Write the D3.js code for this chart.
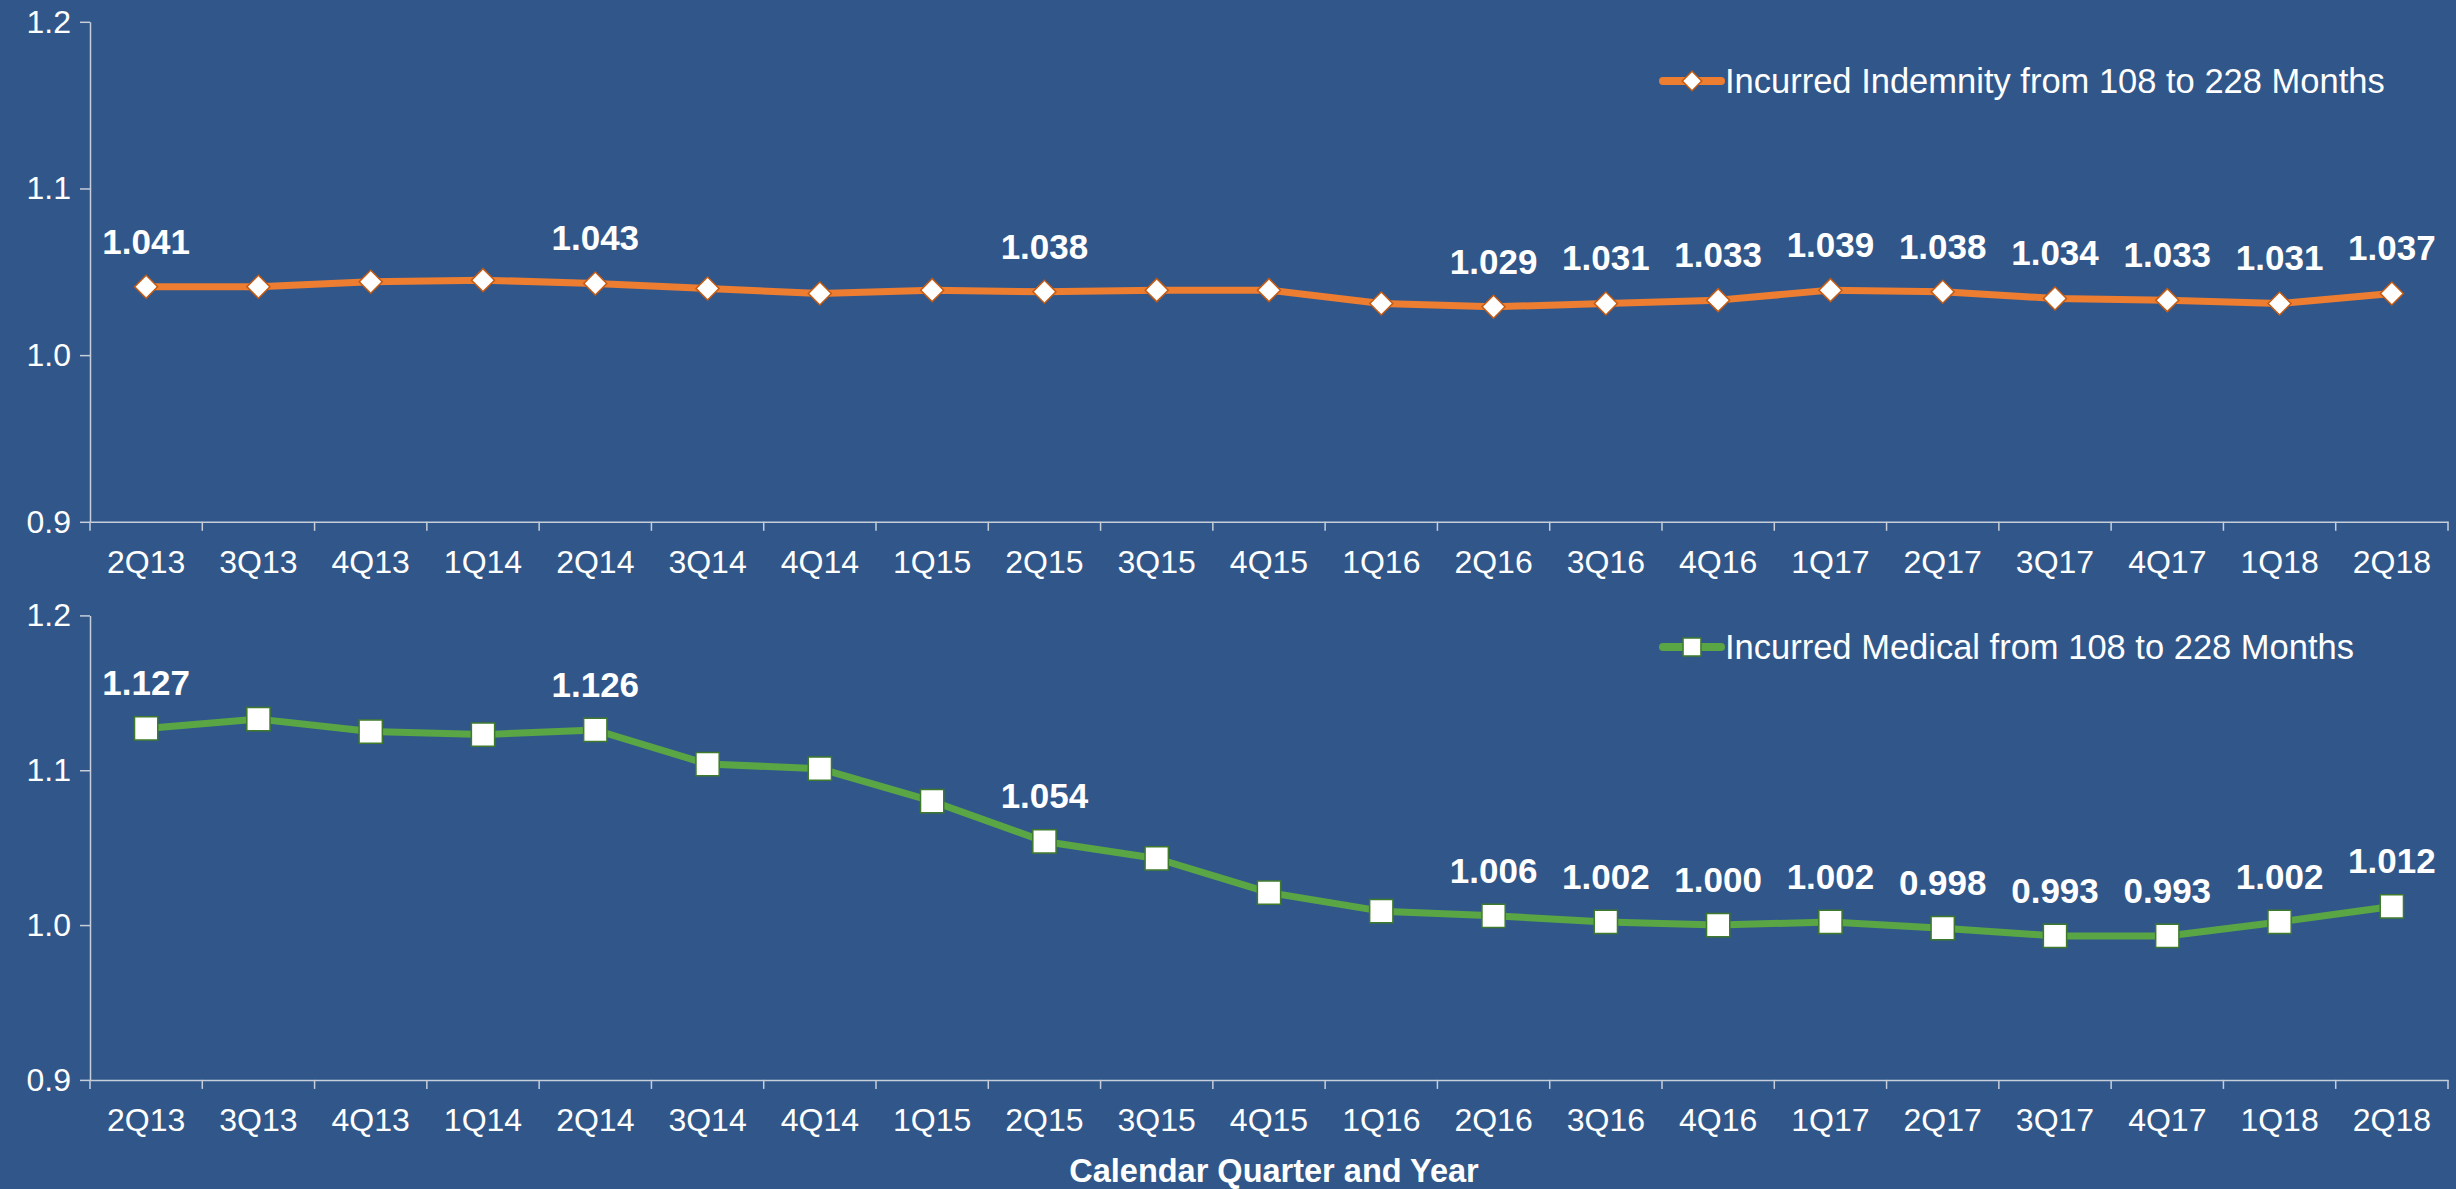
<!DOCTYPE html>
<html>
<head>
<meta charset="utf-8">
<script src="https://cdn.jsdelivr.net/npm/d3@7"></script>
<style>
    body { margin: 0; background: #31578a; }
    svg { display: block; }
    text { font-family: "Liberation Sans", Arial, sans-serif; fill: #ffffff; }
</style>
</head>
<body>
<svg></svg>
<script>
// chart data
let quarters = ['2Q13', '3Q13', '4Q13', '1Q14', '2Q14', '3Q14', '4Q14', '1Q15', '2Q15', '3Q15', '4Q15',
    '1Q16', '2Q16', '3Q16', '4Q16', '1Q17', '2Q17', '3Q17', '4Q17', '1Q18', '2Q18']
let indemnity = [1.041, 1.041, 1.044, 1.045, 1.043, 1.040, 1.037, 1.039, 1.038, 1.039, 1.039,
    1.031, 1.029, 1.031, 1.033, 1.039, 1.038, 1.034, 1.033, 1.031, 1.037]
let medical = [1.127, 1.133, 1.125, 1.123, 1.126, 1.104, 1.101, 1.080, 1.054, 1.043, 1.021,
    1.009, 1.006, 1.002, 1.000, 1.002, 0.998, 0.993, 0.993, 1.002, 1.012]
let labeledQuarters = ['2Q13', '2Q14', '2Q15', '2Q16', '3Q16', '4Q16', '1Q17', '2Q17', '3Q17', '4Q17', '1Q18', '2Q18']
let yTicks = [0.9, 1.0, 1.1, 1.2]
let yDomain = [0.9, 1.2]
let indemnityName = 'Incurred Indemnity from 108 to 228 Months'
let medicalName = 'Incurred Medical from 108 to 228 Months'
let xTitle = 'Calendar Quarter and Year'

let width = 2456
let height = 1189
let left = 90
let right = 2448

let panels = [
    { values: indemnity, name: indemnityName, line: '#ed7d31', edge: '#c55a11', shape: 'diamond',
      top: 21.8, bottom: 521.8, legendY: 81 },
    { values: medical, name: medicalName, line: '#5aa645', edge: '#3f7a2c', shape: 'square',
      top: 615.4, bottom: 1079.9, legendY: 647 }
]

let svg = d3.select('svg')
    .attr('width', width)
    .attr('height', height)

let xScale = d3.scaleBand()
    .domain(quarters)
    .range([left, right])
    .paddingInner(0)
    .paddingOuter(0)

let markerPath = (shape, big) => {
    if (shape === 'diamond') {
        return d3.symbol(d3.symbolSquare, big ? 265 : 190)()
    }
    return d3.symbol(d3.symbolSquare, big ? 540 : 320)()
}

let markerTransform = (shape, x, y) => {
    return shape === 'diamond' ? `translate(${x},${y}) rotate(45)` : `translate(${x},${y})`
}

let drawPanel = (panel) => {
    let yScale = d3.scaleLinear()
        .domain(yDomain)
        .range([panel.bottom, panel.top])

    let g = svg.append('g')

    // y axis
    let yAxis = d3.axisLeft(yScale)
        .tickValues(yTicks)
        .tickFormat(d3.format('.1f'))
        .tickSizeInner(10)
        .tickSizeOuter(0)
        .tickPadding(9)

    g.append('g')
        .attr('transform', `translate(${left}, 0)`)
        .call(yAxis)

    // x axis labels, ticks sit on the band edges
    let xAxis = d3.axisBottom(xScale)
        .tickSize(0)
        .tickPadding(28)

    let xG = g.append('g')
        .attr('transform', `translate(0, ${panel.bottom})`)
        .call(xAxis)

    let edges = quarters.map((q) => xScale(q)).concat([xScale.range()[1]])
    xG.selectAll('.edge')
        .data(edges)
        .enter()
        .append('line')
        .attr('class', 'edge')
        .attr('x1', (d) => d)
        .attr('x2', (d) => d)
        .attr('y1', 0)
        .attr('y2', 9)

    g.selectAll('.domain, line')
        .attr('stroke', '#c6ceda')
        .attr('stroke-width', 1.5)
    g.selectAll('.tick text')
        .attr('fill', '#ffffff')
        .style('font-size', '32px')
        .style('font-family', '"Liberation Sans", Arial, sans-serif')

    // series line
    let points = quarters.map((q, i) => ({ q: q, v: panel.values[i] }))
    let line = d3.line()
        .x((d) => xScale(d.q) + xScale.bandwidth() / 2)
        .y((d) => yScale(d.v))

    g.append('path')
        .datum(points)
        .attr('d', line)
        .attr('fill', 'none')
        .attr('stroke', panel.line)
        .attr('stroke-width', 7)
        .attr('stroke-linejoin', 'round')

    g.selectAll('.marker')
        .data(points)
        .enter()
        .append('path')
        .attr('class', 'marker')
        .attr('d', markerPath(panel.shape, true))
        .attr('transform', (d) => markerTransform(panel.shape, xScale(d.q) + xScale.bandwidth() / 2, yScale(d.v)))
        .attr('fill', '#ffffff')
        .attr('stroke', panel.edge)
        .attr('stroke-width', 1.5)

    // data labels
    g.selectAll('.value')
        .data(points.filter((d) => labeledQuarters.includes(d.q)))
        .enter()
        .append('text')
        .attr('class', 'value')
        .attr('x', (d) => xScale(d.q) + xScale.bandwidth() / 2)
        .attr('y', (d) => yScale(d.v) - 33)
        .attr('text-anchor', 'middle')
        .style('font-size', '35px')
        .style('font-weight', 'bold')
        .text((d) => d3.format('.3f')(d.v))

    // legend
    let lg = g.append('g')
    lg.append('line')
        .attr('x1', 1663)
        .attr('x2', 1721)
        .attr('y1', panel.legendY)
        .attr('y2', panel.legendY)
        .attr('stroke', panel.line)
        .attr('stroke-width', 8)
        .attr('stroke-linecap', 'round')
    lg.append('path')
        .attr('d', markerPath(panel.shape, false))
        .attr('transform', markerTransform(panel.shape, 1692, panel.legendY))
        .attr('fill', '#ffffff')
        .attr('stroke', panel.edge)
        .attr('stroke-width', 1.5)
    lg.append('text')
        .attr('x', 1725)
        .attr('y', panel.legendY + 12)
        .style('font-size', '34.5px')
        .text(panel.name)
}

panels.forEach(drawPanel)

svg.append('text')
    .attr('x', 1274)
    .attr('y', 1182)
    .attr('text-anchor', 'middle')
    .style('font-size', '32.5px')
    .style('font-weight', 'bold')
    .text(xTitle)
</script>
</body>
</html>
